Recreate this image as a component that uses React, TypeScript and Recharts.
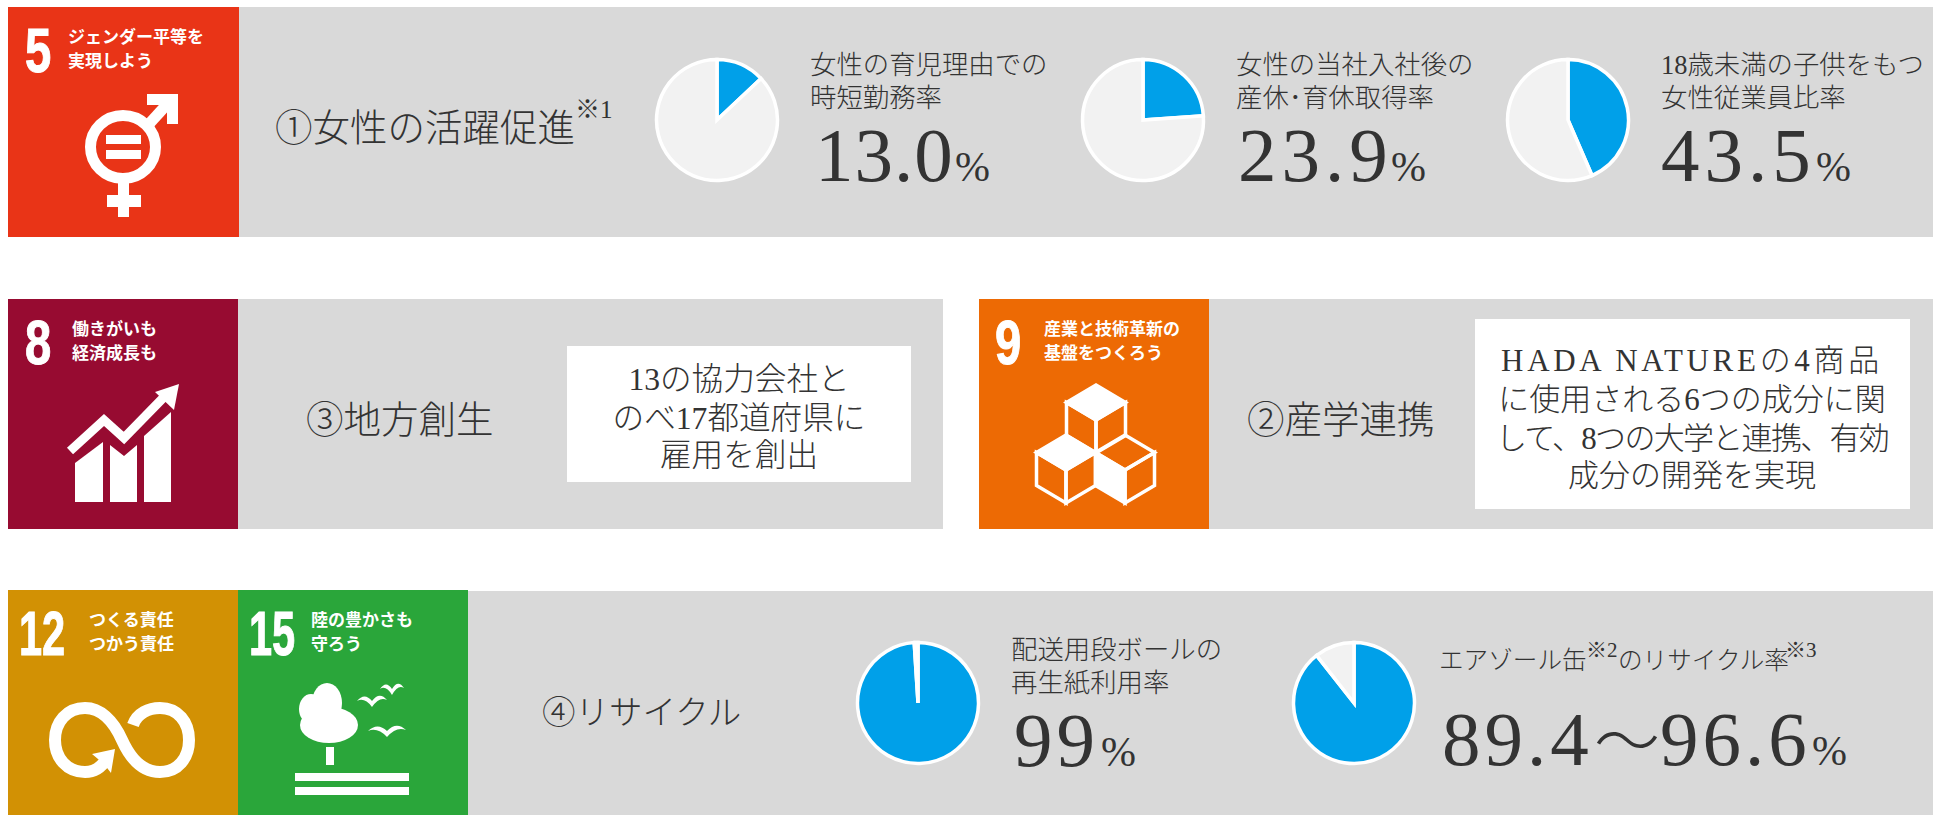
import { PieChart, Pie, Cell } from "recharts";

const sliceNames = ["該当", "その他"];
const shortHours = [13.0, 87.0];
const leaveRate = [23.9, 76.1];
const mothers = [43.5, 56.5];
const recycledPaper = [99, 1];
const aerosolCans = [89.4, 10.6];

const BLUE = "#00A0E9";
const PALE = "#F2F2F2";
const GRAY = "#D9D9D9";
const INK = "#333333";
const MINCHO = "'Liberation Serif','Noto Sans CJK JP'";
const GOTHIC = "'Noto Sans CJK JP'";

function toRows(values: number[]) {
  return values.map((value, i) => ({ name: sliceNames[i], value }));
}

function Donut({ values, cx, cy }: { values: number[]; cx: number; cy: number }) {
  const size = 130;
  return (
    <div style={{ position: "absolute", left: cx - size / 2, top: cy - size / 2 }}>
      <PieChart width={size} height={size} margin={{ top: 0, right: 0, bottom: 0, left: 0 }}>
        <Pie
          data={toRows(values)}
          dataKey="value"
          nameKey="name"
          cx={size / 2}
          cy={size / 2}
          innerRadius={0}
          outerRadius={60.5}
          startAngle={90}
          endAngle={-270}
          stroke="#FFFFFF"
          strokeWidth={3.5}
          isAnimationActive={false}
        >
          <Cell fill={BLUE} />
          <Cell fill={PALE} />
        </Pie>
      </PieChart>
    </div>
  );
}

function T({ x, y, size, children, anchor, ls, fill = INK, weight = 300 }: any) {
  return (
    <text x={x} y={y} fontSize={size} textAnchor={anchor} letterSpacing={ls} fill={fill} fontWeight={weight} fontFamily={MINCHO}>
      {children}
    </text>
  );
}

function Goal({ x, y, num, lines, tx, color, w = 230, h = 230, sx = 0.75, nx = 16 }: any) {
  return (
    <g>
      <rect x={x} y={y} width={w} height={h} fill={color} />
      <text
        transform={`translate(${x + nx},${y + 65}) scale(${sx},1)`}
        fontSize={63}
        fontWeight={700}
        fill="#FFFFFF"
        stroke="#FFFFFF"
        strokeWidth={1}
        fontFamily="'Liberation Sans'"
      >
        {num}
      </text>
      {lines.map((l: string, i: number) => (
        <text key={l} x={tx} y={y + 36 + i * 24} fontSize={17} fontWeight={700} fill="#FFFFFF" fontFamily={GOTHIC}>
          {l}
        </text>
      ))}
    </g>
  );
}

function Stat({ x, y, lines, value, pctX, numX, ls }: any) {
  return (
    <g>
      <T x={x} y={y} size={26.4}>{lines[0]}</T>
      <T x={x} y={y + 33} size={26.4}>{lines[1]}</T>
      <T x={numX} y={y + 107} size={77} ls={ls}>{value}</T>
      <T x={pctX} y={y + 107} size={42}>%</T>
    </g>
  );
}

function Cube({ cx, ty, topFill, leftFill }: any) {
  const hw = 29.5;
  const d = 17.5;
  const s = 33;
  const top = `${cx},${ty} ${cx + hw},${ty + d} ${cx},${ty + 2 * d} ${cx - hw},${ty + d}`;
  const left = `${cx - hw},${ty + d} ${cx},${ty + 2 * d} ${cx},${ty + 2 * d + s} ${cx - hw},${ty + d + s}`;
  const right = `${cx + hw},${ty + d} ${cx},${ty + 2 * d} ${cx},${ty + 2 * d + s} ${cx + hw},${ty + d + s}`;
  const st = { stroke: "#FFFFFF", strokeWidth: 3.5, strokeLinejoin: "miter" as const };
  return (
    <g>
      <polygon points={top} fill={topFill ? "#FFFFFF" : "none"} {...st} />
      <polygon points={left} fill={leftFill ? "#FFFFFF" : "none"} {...st} />
      <polygon points={right} fill="none" {...st} />
    </g>
  );
}

function Bird({ x, y, w }: any) {
  return (
    <path
      d={`M${x - w / 2} ${y + 3} Q${x - w / 4} ${y - 6} ${x} ${y + 3} Q${x + w / 4} ${y - 7} ${x + w / 2} ${y + 2} Q${x + w / 4} ${y - 2} ${x} ${y + 9} Q${x - w / 4} ${y - 1} ${x - w / 2} ${y + 3}Z`}
      fill="#FFFFFF"
    />
  );
}

export default function App() {
  return (
    <div style={{ position: "absolute", left: 0, top: 0, width: 1933, height: 815, background: "#FFFFFF", overflow: "hidden" }}>
      <svg width={1933} height={815} style={{ position: "absolute", left: 0, top: 0 }}>
        {/* bands */}
        <rect x={239} y={7} width={1694} height={230} fill={GRAY} />
        <rect x={238} y={299} width={705} height={230} fill={GRAY} />
        <rect x={1209} y={299} width={724} height={230} fill={GRAY} />
        <rect x={468} y={591} width={1465} height={224} fill={GRAY} />
        <rect x={567} y={346} width={344} height={136} fill="#FFFFFF" />
        <rect x={1475} y={319} width={435} height={190} fill="#FFFFFF" />

        {/* goal tiles */}
        <Goal x={8} y={7} w={231} num="5" nx={17} tx={68} color="#E93417" lines={["ジェンダー平等を", "実現しよう"]} />
        <Goal x={8} y={299} num="8" nx={17} tx={72} color="#970B31" lines={["働きがいも", "経済成長も"]} />
        <Goal x={979} y={299} num="9" nx={16} tx={1044} color="#ED6A04" lines={["産業と技術革新の", "基盤をつくろう"]} />
        <Goal x={8} y={590} h={225} num="12" nx={11} sx={0.66} tx={89} color="#D29104" lines={["つくる責任", "つかう責任"]} />
        <Goal x={238} y={590} h={225} num="15" nx={11} sx={0.66} tx={311} color="#2AA63A" lines={["陸の豊かさも", "守ろう"]} />

        {/* goal 5 icon */}
        <ellipse cx={123} cy={147} rx={32.5} ry={31.5} fill="none" stroke="#FFFFFF" strokeWidth={11} />
        <rect x={106} y={135} width={35} height={9} fill="#FFFFFF" />
        <rect x={106} y={150} width={35} height={9} fill="#FFFFFF" />
        <rect x={118} y={183} width={11} height={34} fill="#FFFFFF" />
        <rect x={107} y={195} width={34} height={12} fill="#FFFFFF" />
        <line x1={149} y1={124} x2={170} y2={101} stroke="#FFFFFF" strokeWidth={11} />
        <polygon points="147,94 178,94 178,124 167,124 167,105 147,105" fill="#FFFFFF" />

        {/* goal 8 icon */}
        <polygon points="75,463 103,442 103,502 75,502" fill="#FFFFFF" />
        <polygon points="110,445 124,456 137,445 137,502 110,502" fill="#FFFFFF" />
        <polygon points="144,436 171,412 171,502 144,502" fill="#FFFFFF" />
        <polyline points="70,451 104,420 124,438 165,396" fill="none" stroke="#FFFFFF" strokeWidth={9} />
        <polygon points="179,384 174,410 155,392" fill="#FFFFFF" />

        {/* goal 9 icon */}
        <Cube cx={1096} ty={385} topFill />
        <Cube cx={1066} ty={435} topFill />
        <Cube cx={1125} ty={435} leftFill />

        {/* goal 12 icon */}
        <path
          d="M133 725 C137 713 149 708 160 708 C178 708 189 722 189 740 C189 758 178 772 160 772 C144 772 131 760 122 740 C113 720 100 708 85 708 C67 708 55 722 55 740 C55 758 67 772 85 772 C95 772 102 767 107 758"
          fill="none"
          stroke="#FFFFFF"
          strokeWidth={12}
        />
        <polygon points="92,754 115,749 111,773 104,764" fill="#FFFFFF" />

        {/* goal 15 icon */}
        <ellipse cx={327} cy={703} rx={15} ry={20} fill="#FFFFFF" />
        <ellipse cx={311} cy={709} rx={12} ry={15} fill="#FFFFFF" />
        <ellipse cx={329} cy={725} rx={29} ry={18} fill="#FFFFFF" />
        <rect x={326} y={747} width={8} height={18} fill="#FFFFFF" />
        <rect x={295} y={773} width={114} height={8} fill="#FFFFFF" />
        <rect x={295} y={787} width={114} height={8} fill="#FFFFFF" />
        <Bird x={372} y={698} w={30} />
        <Bird x={392} y={686} w={24} />
        <Bird x={387} y={728} w={38} />

        {/* headings */}
        <T x={275} y={141} size={37.5}>①女性の活躍促進</T>
        <T x={575} y={118} size={25}>※1</T>
        <T x={306} y={433} size={37.5}>③地方創生</T>
        <T x={1247} y={433} size={37.5}>②産学連携</T>
        <T x={542} y={724} size={33.5}>④リサイクル</T>

        {/* white boxes */}
        <T x={739} y={390} size={31.6} anchor="middle">13の協力会社と</T>
        <T x={739} y={429} size={31.6} anchor="middle">のべ17都道府県に</T>
        <T x={739} y={466} size={31.6} anchor="middle">雇用を創出</T>
        <T x={1692} y={371} size={31} anchor="middle" ls={3.7}>HADA NATUREの4商品</T>
        <T x={1692} y={410} size={31} anchor="middle">に使用される6つの成分に関</T>
        <T x={1692} y={449} size={31} anchor="middle" ls={-1.7}>して、8つの大学と連携、有効</T>
        <T x={1692} y={486} size={31} anchor="middle">成分の開発を実現</T>

        {/* figures */}
        <Stat x={810} y={74} lines={["女性の育児理由での", "時短勤務率"]} numX={815} value="13.0" pctX={955} ls={1} />
        <Stat x={1236} y={74} lines={["女性の当社入社後の", "産休･育休取得率"]} numX={1238} value="23.9" pctX={1391} ls={5} />
        <Stat x={1661} y={74} lines={["18歳未満の子供をもつ", "女性従業員比率"]} numX={1661} value="43.5" pctX={1816} ls={5} />
        <Stat x={1011} y={659} lines={["配送用段ボールの", "再生紙利用率"]} numX={1014} value="99" pctX={1101} ls={4} />

        <T x={1439} y={669} size={24.6}>エアゾール缶</T>
        <T x={1586} y={657} size={21}>※2</T>
        <T x={1618} y={669} size={24.6}>のリサイクル率</T>
        <T x={1785} y={657} size={21}>※3</T>
        <T x={1442} y={765} size={77} ls={4}>89.4</T>
        <T x={1594} y={765} size={66}>～</T>
        <T x={1660} y={765} size={77} ls={4}>96.6</T>
        <T x={1812} y={765} size={42}>%</T>
      </svg>

      <Donut values={shortHours} cx={717} cy={120} />
      <Donut values={leaveRate} cx={1143} cy={120} />
      <Donut values={mothers} cx={1568} cy={120} />
      <Donut values={recycledPaper} cx={918} cy={703} />
      <Donut values={aerosolCans} cx={1354} cy={703} />
    </div>
  );
}
